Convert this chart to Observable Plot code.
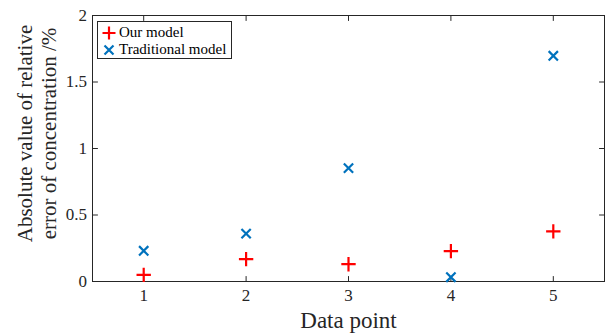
<!DOCTYPE html>
<html>
<head>
<meta charset="utf-8">
<script src="https://cdn.jsdelivr.net/npm/d3@7"></script>
<script src="https://cdn.jsdelivr.net/npm/@observablehq/plot@0.6"></script>
<style>
  html, body { margin: 0; padding: 0; background: #fff; }
  #chart { position: relative; width: 607px; height: 333px; font-family: "Liberation Serif", "Times New Roman", serif; }
  #chart svg text { font-family: "Liberation Serif", "Times New Roman", serif; font-variant: normal; }
  #legend { position: absolute; left: 97px; top: 21px; width: 135px; height: 38px; border: 1px solid #262626; background: #fff; box-sizing: border-box; font-size: 15px; color: #000; }
  .item { position: absolute; left: 4px; height: 17px; display: flex; align-items: center; white-space: nowrap; }
  .item svg { margin-right: 3px; }
</style>
</head>
<body>
<div id="chart"></div>
<script>
const dataPoints = [1, 2, 3, 4, 5];
const ourModel = [0.05, 0.168, 0.13, 0.228, 0.377];
const traditionalModel = [0.231, 0.36, 0.853, 0.032, 1.697];
const xTicks = [1, 2, 3, 4, 5];
const yTicks = [0, 0.5, 1, 1.5, 2];
const seriesNames = ["Our model", "Traditional model"];
const xLabel = "Data point";
const yLabel = "Absolute value of relative\nerror of concentration /%";

const red = "#ff0000";
const blue = "#0072bd";
const ink = "#262626";
const serif = '"Liberation Serif", "Times New Roman", serif';

const ours = dataPoints.map((d, i) => ({x: d, y: ourModel[i]}));
const trad = dataPoints.map((d, i) => ({x: d, y: traditionalModel[i]}));

// plain line tick shape for inward ticks
const tickLine = {draw(context, l) { context.moveTo(0, 0); context.lineTo(0, -l); }};
const tickLen = 5;

const plot = Plot.plot({
  width: 607,
  height: 333,
  marginLeft: 92,
  marginRight: 3,
  marginTop: 15,
  marginBottom: 52,
  style: {fontFamily: serif, background: "#fff", color: ink},
  x: {domain: [0.5, 5.5]},
  y: {domain: [0, 2]},
  marks: [
    Plot.frame({stroke: ink, strokeWidth: 1}),
    // inward ticks on all four sides
    Plot.vector(xTicks, {x: d => d, frameAnchor: "bottom", length: tickLen, rotate: 0, anchor: "start", shape: tickLine, stroke: ink, strokeWidth: 1}),
    Plot.vector(xTicks, {x: d => d, frameAnchor: "top", length: tickLen, rotate: 180, anchor: "start", shape: tickLine, stroke: ink, strokeWidth: 1}),
    Plot.vector(yTicks, {y: d => d, frameAnchor: "left", length: tickLen, rotate: 90, anchor: "start", shape: tickLine, stroke: ink, strokeWidth: 1}),
    Plot.vector(yTicks, {y: d => d, frameAnchor: "right", length: tickLen, rotate: -90, anchor: "start", shape: tickLine, stroke: ink, strokeWidth: 1}),
    Plot.axisX(xTicks, {anchor: "bottom", tickSize: 0, tickPadding: 7, fontSize: 17, fontFamily: serif, label: null, fill: ink}),
    Plot.axisY(yTicks, {anchor: "left", tickSize: 0, tickPadding: 5.5, fontSize: 17, fontFamily: serif, label: null, tickFormat: d => String(d), fill: ink}),
    Plot.dot(trad, {x: "x", y: "y", symbol: "times", r: 4.3, stroke: blue, strokeWidth: 2.2, fill: "none"}),
    Plot.dot(ours, {x: "x", y: "y", symbol: "plus", r: 4.7, stroke: red, strokeWidth: 2.2, fill: "none"}),
    Plot.text([xLabel], {frameAnchor: "bottom", dy: 39, text: d => d, fontSize: 23, fontFamily: serif, lineAnchor: "middle", fill: ink}),
    Plot.text([yLabel], {frameAnchor: "left", dx: -56, dy: -15, rotate: -90, textAnchor: "middle", text: d => d, fontSize: 21, fontFamily: serif, lineHeight: 1.15, lineAnchor: "middle", fill: ink})
  ]
});
const chart = document.getElementById("chart");
chart.appendChild(plot);

const legend = document.createElement("div");
legend.id = "legend";
const icons = {
  "Our model": `<svg width="14" height="14"><path d="M7,0.5V13.5M0.5,7H13.5" stroke="${red}" stroke-width="2.2" fill="none"/></svg>`,
  "Traditional model": `<svg width="14" height="14"><path d="M2.5,2.5L11.5,11.5M11.5,2.5L2.5,11.5" stroke="${blue}" stroke-width="2.2" fill="none"/></svg>`
};
seriesNames.forEach((name, i) => {
  const item = document.createElement("div");
  item.className = "item";
  item.style.top = (2 + i * 17) + "px";
  item.innerHTML = icons[name] + `<span>${name}</span>`;
  legend.appendChild(item);
});
chart.appendChild(legend);
</script>
</body>
</html>
